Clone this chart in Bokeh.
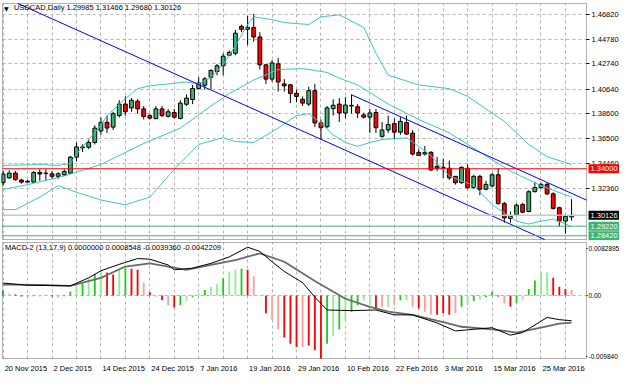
from bokeh.plotting import figure
from bokeh.layouts import column
from bokeh.models import (Range1d, LinearAxis, FixedTicker, PrintfTickFormatter, Grid,
                          BoxAnnotation, Label, ColumnDataSource)
from bokeh.embed import file_html
from bokeh.resources import INLINE

# ---------------- data ----------------
bars = list(range(94))
opens = [1.3284, 1.3324, 1.3364, 1.3306, 1.3297, 1.3289, 1.3369, 1.3364, 1.3358, 1.3337,
         1.3350, 1.3364, 1.3497, 1.3575, 1.3579, 1.3619, 1.3715, 1.3787, 1.3747, 1.3843,
         1.3939, 1.3907, 1.3963, 1.3899, 1.3843, 1.3819, 1.3899, 1.3837, 1.3869, 1.3819,
         1.3937, 1.3977, 1.4069, 1.4096, 1.4163, 1.4211, 1.4258, 1.4346, 1.4362, 1.4586,
         1.4562, 1.4578, 1.4498, 1.4266, 1.4147, 1.4274, 1.4107, 1.4099, 1.4029, 1.3979,
         1.3939, 1.4051, 1.3782, 1.3750, 1.3901, 1.3939, 1.3865, 1.3929, 1.3917, 1.3849,
         1.3830, 1.3869, 1.3670, 1.3723, 1.3777, 1.3705, 1.3785, 1.3697, 1.3537, 1.3523,
         1.3537, 1.3420, 1.3412, 1.3404, 1.3337, 1.3284, 1.3404, 1.3244, 1.3337, 1.3230,
         1.3257, 1.3350, 1.3110, 1.2986, 1.3018, 1.3102, 1.3044, 1.3209, 1.3244, 1.3270,
         1.3191, 1.3076, 1.2964, 1.29985]
highs = [1.3380, 1.3388, 1.3382, 1.3316, 1.3308, 1.3380, 1.3396, 1.3396, 1.3380, 1.3372,
         1.3396, 1.3507, 1.3619, 1.3603, 1.3643, 1.3763, 1.3827, 1.3843, 1.3875, 1.3971,
         1.4003, 1.3989, 1.3979, 1.3923, 1.3859, 1.3923, 1.3923, 1.3899, 1.3899, 1.3971,
         1.4019, 1.4099, 1.4163, 1.4163, 1.4229, 1.4274, 1.4362, 1.4386, 1.4557, 1.4602,
         1.4674, 1.4690, 1.4538, 1.4274, 1.4306, 1.4322, 1.4147, 1.4107, 1.4059, 1.4003,
         1.4083, 1.4107, 1.3811, 1.3923, 1.3979, 1.3989, 1.3997, 1.4019, 1.3939, 1.3867,
         1.3899, 1.3899, 1.3790, 1.3843, 1.3819, 1.3830, 1.3843, 1.3723, 1.3563, 1.3590,
         1.3547, 1.3499, 1.3484, 1.3468, 1.3340, 1.3420, 1.3438, 1.3350, 1.3350, 1.3300,
         1.3364, 1.3404, 1.3124, 1.3044, 1.3110, 1.3118, 1.3220, 1.3292, 1.3284, 1.3284,
         1.3204, 1.3084, 1.3020, 1.31466]
lows = [1.3260, 1.3316, 1.3300, 1.3276, 1.3284, 1.3284, 1.3300, 1.3300, 1.3316, 1.3316,
        1.3340, 1.3356, 1.3460, 1.3539, 1.3563, 1.3603, 1.3683, 1.3699, 1.3723, 1.3827,
        1.3843, 1.3875, 1.3859, 1.3811, 1.3811, 1.3811, 1.3830, 1.3827, 1.3819, 1.3811,
        1.3923, 1.3939, 1.4059, 1.4059, 1.4061, 1.4179, 1.4179, 1.4338, 1.4346, 1.4538,
        1.4429, 1.4458, 1.4227, 1.4107, 1.4123, 1.4043, 1.4043, 1.3947, 1.3955, 1.3923,
        1.3923, 1.3747, 1.3643, 1.3739, 1.3843, 1.3790, 1.3819, 1.3859, 1.3822, 1.3819,
        1.3699, 1.3699, 1.3659, 1.3699, 1.3643, 1.3683, 1.3683, 1.3510, 1.3507, 1.3510,
        1.3380, 1.3380, 1.3324, 1.3308, 1.3268, 1.3276, 1.3230, 1.3230, 1.3180, 1.3220,
        1.3244, 1.3100, 1.2951, 1.2951, 1.3004, 1.3030, 1.3038, 1.3204, 1.3230, 1.3180,
        1.3060, 1.2916, 1.2858, 1.29680]
closes = [1.3356, 1.3364, 1.3310, 1.3289, 1.3289, 1.3369, 1.3356, 1.3360, 1.3337, 1.3358,
          1.3377, 1.3497, 1.3582, 1.3582, 1.3619, 1.3739, 1.3787, 1.3739, 1.3859, 1.3939,
          1.3875, 1.3971, 1.3899, 1.3835, 1.3822, 1.3899, 1.3843, 1.3875, 1.3830, 1.3947,
          1.3989, 1.4069, 1.4115, 1.4149, 1.4219, 1.4258, 1.4338, 1.4370, 1.4530, 1.4562,
          1.4578, 1.4498, 1.4266, 1.4147, 1.4282, 1.4123, 1.4091, 1.4027, 1.4003, 1.3947,
          1.4051, 1.3782, 1.3742, 1.3907, 1.3929, 1.3865, 1.3931, 1.3923, 1.3865, 1.3830,
          1.3865, 1.3742, 1.3723, 1.3769, 1.3705, 1.3795, 1.3689, 1.3523, 1.3510, 1.3537,
          1.3390, 1.3404, 1.3404, 1.3324, 1.3284, 1.3412, 1.3244, 1.3337, 1.3230, 1.3270,
          1.3350, 1.3110, 1.2991, 1.3004, 1.3097, 1.3038, 1.3209, 1.3244, 1.3270, 1.3191,
          1.3070, 1.2964, 1.3004, 1.30126]

# Bollinger bands
bb_upper_x = [0, 6, 9, 11, 12, 14, 16, 17, 19, 21, 22, 24, 27, 30, 32, 34, 36, 38, 40, 41,
              44, 46, 50, 52, 55, 59, 61, 63, 68, 73, 76, 79, 82, 86, 89, 93]
bb_upper = [1.3428, 1.3436, 1.3428, 1.3444, 1.3524, 1.3643, 1.3763, 1.3843, 1.3939, 1.4027,
            1.4067, 1.4091, 1.4107, 1.4123, 1.4107, 1.4163, 1.4267, 1.4426, 1.4602, 1.4666,
            1.4642, 1.4618, 1.4602, 1.4666, 1.4682, 1.4578, 1.4363, 1.4179, 1.4099, 1.4067,
            1.4003, 1.3899, 1.3795, 1.3603, 1.3500, 1.3436]
bb_mid_x = [0, 4, 10, 16, 23, 29, 34, 37, 41, 45, 49, 53, 55, 58, 63, 68, 73, 78, 83, 88, 93]
bb_mid = [1.3228, 1.3268, 1.3340, 1.3436, 1.3611, 1.3739, 1.3923, 1.4027, 1.4139, 1.4227,
          1.4235, 1.4203, 1.4155, 1.4099, 1.3939, 1.3811, 1.3699, 1.3540, 1.3380, 1.3260,
          1.3164]
bb_lower_x = [0, 2, 6, 9, 12, 16, 20, 24, 28, 32, 36, 38, 41, 45, 48, 50, 52, 54, 56, 58,
              60, 62, 66, 68, 70, 73, 77, 80, 84, 86, 88, 90, 92, 93]
bb_lower = [1.3060, 1.3060, 1.3164, 1.3260, 1.3204, 1.3140, 1.3100, 1.3164, 1.3396, 1.3603,
            1.3659, 1.3627, 1.3619, 1.3739, 1.3843, 1.3859, 1.3779, 1.3683, 1.3619, 1.3587,
            1.3619, 1.3643, 1.3659, 1.3587, 1.3508, 1.3340, 1.3260, 1.3100, 1.2964, 1.2940,
            1.2964, 1.2980, 1.2940, 1.2916]

# trend channel (two parallel lines, ending at the chart border)
channel_upper_x = [57, 95.45]
channel_upper = [1.40164, 1.31393]
channel_lower_x = [2.4, 88.6]
channel_lower = [1.47770, 1.28110]

# horizontal levels
level_red = 1.34000
level_bid = 1.30126
level_green = [1.29220, 1.28420]

price_ticks = [1.46820, 1.44780, 1.42740, 1.40640, 1.38600, 1.36500, 1.34460, 1.32360]

# MACD-2 (13,17,9)
macd_x = [0, 4, 11, 14, 16, 19, 22, 24, 27, 28, 31, 34, 37, 40, 42, 44, 46, 49, 51, 53,
          57, 61, 64, 67, 71, 74, 77, 80, 83, 85, 89, 91, 93]
macd_line = [0.00195, 0.00161, 0.00151, 0.00277, 0.00387, 0.00488, 0.00578, 0.00568, 0.00478,
             0.00402, 0.00428, 0.00503, 0.00604, 0.00755, 0.00690, 0.00528, 0.00377, 0.00201,
             -0.00025, -0.00226, -0.00236, -0.00226, -0.00302, -0.00302, -0.00428, -0.00553,
             -0.00528, -0.00503, -0.00619, -0.00578, -0.00342, -0.00377, -0.0039360]
signal_x = [0, 6, 11, 16, 20, 24, 27, 30, 34, 38, 42, 46, 51, 56, 60, 63, 67, 72, 75, 80,
            84, 88, 91, 93]
signal_line = [0.00170, 0.00166, 0.00151, 0.00277, 0.00453, 0.00503, 0.00453, 0.00402,
               0.00478, 0.00553, 0.00660, 0.00528, 0.00226, -0.00050, -0.00176, -0.00252,
               -0.00302, -0.00417, -0.00488, -0.00528, -0.00578, -0.00503, -0.00438,
               -0.0042209]
hist = [0.00075, 0.00035, 0.00015, -0.00015, -0.00025, -0.00010, -0.00015, -0.00005,
        -0.00015, -0.00025, -0.00010, 0.00065, 0.00151, 0.00186, 0.00267, 0.00337, 0.00412,
        0.00362, 0.00327, 0.00402, 0.00428, 0.00417, 0.00402, 0.00201, 0.00050, -0.00015,
        -0.00075, -0.00151, -0.00186, -0.00151, -0.00086, -0.00025, 0.00035, 0.00086,
        0.00136, 0.00176, 0.00267, 0.00377, 0.00402, 0.00417, 0.00402, 0.00302, -0.00010,
        -0.00277, -0.00377, -0.00528, -0.00654, -0.00755, -0.00805, -0.00805, -0.00780,
        -0.00855, -0.00984, -0.00755, -0.00629, -0.00528, -0.00402, -0.00252, -0.00151,
        -0.00075, -0.00151, -0.00201, -0.00176, -0.00176, -0.00151, -0.00075, -0.00075,
        -0.00176, -0.00201, -0.00252, -0.00302, -0.00302, -0.00277, -0.00302, -0.00277,
        -0.00176, -0.00151, -0.00086, -0.00060, -0.00025, 0.00065, -0.00015, -0.00126,
        -0.00176, -0.00116, -0.00075, 0.00101, 0.00236, 0.00377, 0.00362, 0.00277, 0.00136,
        0.00101, 0.0008548]
hist_kind = ["G", "L", "R", "R", "P", "G", "P", "G", "R", "P", "G", "G", "L", "G", "L", "G",
             "L", "R", "R", "L", "G", "R", "R", "P", "R", "P", "R", "P", "R", "G", "L", "G",
             "L", "G", "L", "L", "G", "L", "L", "G", "R", "P", "P", "R", "P", "P", "R", "R",
             "R", "P", "R", "R", "R", "G", "L", "G", "L", "G", "G", "L", "L", "R", "P", "L",
             "P", "G", "L", "P", "R", "P", "P", "R", "R", "R", "P", "G", "L", "G", "L", "G",
             "G", "R", "P", "R", "G", "L", "G", "G", "L", "L", "R", "R", "R", "P"]
macd_top, macd_bottom = 0.0082895, -0.009840
macd_scale_labels = ["0.0082895", "0.00", "-0.009840"]

date_bars = [0, 8, 16, 24, 32, 40, 48, 56, 64, 72, 80, 88]
date_labels = ["20 Nov 2015", "2 Dec 2015", "14 Dec 2015", "24 Dec 2015", "7 Jan 2016",
               "19 Jan 2016", "29 Jan 2016", "10 Feb 2016", "22 Feb 2016", "3 Mar 2016",
               "15 Mar 2016", "25 Mar 2016"]
grid_bars = list(range(0, 94, 4))

title_main = "USDCAD,Daily  1.29985 1.31466 1.29680 1.30126"
title_macd = "MACD-2 (13,17,9) 0.0000000 0.0008548 -0.0039360 -0.0042209"

# ---------------- geometry (pixels of the 619 x 375 canvas) ----------------
FONT = "Liberation Sans"
FS = "7.5px"
W = 619
H1, H2 = 241, 134
PXB = 6.112          # pixels per bar
X0 = 2.63            # canvas x of bar 0
FRAME_L = 1          # frames span from x=1 to the right canvas edge
BOX_L, BOX_R = 2.0, 586.0    # MT4 chart border (left / right)
def bar_at(px):
    return (px - X0) / PXB
x_start, x_end = bar_at(FRAME_L), bar_at(W)
box_left, box_right = bar_at(BOX_L), bar_at(BOX_R)

PPX = 0.00083307     # price per pixel, main panel
P0 = 1.48019         # price at canvas y = 0
def price_at(py):
    return P0 - PPX * py
# main: frame y 2..240, chart border y 3..239
main_lo, main_hi = price_at(240), price_at(2)
box_lo, box_hi = price_at(239), price_at(3)

# MACD: frame y 241..359 (canvas), chart border y 242..358
MPX = (macd_top - macd_bottom) / 116.0
m_lo, m_hi = macd_bottom - MPX, macd_top + MPX

GRID_COLOR = "#b4b4b4"
xr = Range1d(x_start, x_end)

# ---------------- main price panel ----------------
p = figure(width=W, height=H1, x_range=xr, y_range=Range1d(main_lo, main_hi),
           x_axis_location=None, y_axis_location=None, toolbar_location=None,
           output_backend="svg", min_border_left=FRAME_L, min_border_right=0,
           min_border_top=2, min_border_bottom=1, title=None)
p.grid.visible = False
p.outline_line_color = None
p.background_fill_color = "white"
p.border_fill_color = "white"

p.add_layout(Grid(dimension=0, ticker=FixedTicker(ticks=grid_bars), grid_line_color=GRID_COLOR,
                  grid_line_dash="3 3", cross_bounds=(box_lo, box_hi)))
p.add_layout(Grid(dimension=1, ticker=FixedTicker(ticks=price_ticks), grid_line_color=GRID_COLOR,
                  grid_line_dash="3 3", cross_bounds=(box_left, box_right)))

up_color, down_color = "#3cb371", "#ff0000"
src = ColumnDataSource(dict(
    x=bars, h=highs, l=lows,
    top=[max(o, c) for o, c in zip(opens, closes)],
    bottom=[min(o, c) for o, c in zip(opens, closes)],
    fill=[up_color if c >= o else down_color for o, c in zip(opens, closes)],
))
p.segment(x0="x", y0="l", x1="x", y1="h", source=src, line_color="black", line_width=1)
p.vbar(x="x", width=0.62, top="top", bottom="bottom", fill_color="fill", line_color="black",
       line_width=1, source=src)

BB_COLOR = "#40c4c0"
p.line(bb_upper_x, bb_upper, line_color=BB_COLOR, line_width=1)
p.line(bb_mid_x, bb_mid, line_color=BB_COLOR, line_width=1)
p.line(bb_lower_x, bb_lower, line_color=BB_COLOR, line_width=1)

p.line(channel_upper_x, channel_upper, line_color="#0000ff", line_width=1)
p.line(channel_lower_x, channel_lower, line_color="#0000ff", line_width=1)

levels = [level_red, level_bid] + level_green
level_colors = ["#ff0000", "#c8c8c8", "#3cb371", "#3cb371"]
level_widths = [1, 1.5, 1, 1]
p.segment(x0=[box_left] * 4, x1=[box_right] * 4, y0=levels, y1=levels,
          line_color=level_colors, line_width=level_widths)

# chart border
p.add_layout(BoxAnnotation(left=box_left, right=box_right, bottom=box_lo, top=box_hi,
                           fill_alpha=0, line_color="black", line_width=1))

# price scale on the right of the chart border
yaxis = LinearAxis(ticker=FixedTicker(ticks=price_ticks), formatter=PrintfTickFormatter(format="%.5f"),
                   fixed_location=box_right,
                   major_tick_out=3, major_tick_in=0, minor_tick_out=0, minor_tick_in=0,
                   major_label_standoff=2, axis_line_color=None, major_tick_line_color="black",
                   major_label_text_font=FONT, major_label_text_font_size=FS,
                   major_label_text_color="black")
p.add_layout(yaxis, "right")

label_bg = ["#ff0000", "#000000", "#3cb371", "#3cb371"]
for val, bg in zip(levels, label_bg):
    p.add_layout(Label(x=box_right, y=val, x_offset=2, text="%.5f" % val, text_color="white",
                       text_font=FONT, text_font_size=FS, text_baseline="middle",
                       text_align="left", background_fill_color=bg, padding=2))

FH1 = H1 - 3
p.add_layout(Label(x=2.5, y=FH1 - 5.5, x_units="screen", y_units="screen", text="\u25bc",
                   text_font="DejaVu Sans", text_font_size="6px", text_baseline="middle",
                   text_color="black"))
p.add_layout(Label(x=12.5, y=FH1 - 5.2, x_units="screen", y_units="screen", text=title_main,
                   text_font=FONT, text_font_size=FS, text_baseline="middle",
                   text_color="black"))

# ---------------- MACD panel ----------------
p2 = figure(width=W, height=H2, x_range=xr, y_range=Range1d(m_lo, m_hi),
            x_axis_location=None, y_axis_location=None, toolbar_location=None,
            output_backend="svg", min_border_left=FRAME_L, min_border_right=0,
            min_border_top=0, min_border_bottom=16, title=None)
p2.grid.visible = False
p2.outline_line_color = None
p2.background_fill_color = "white"
p2.border_fill_color = "white"
p2.add_layout(Grid(dimension=0, ticker=FixedTicker(ticks=grid_bars), grid_line_color=GRID_COLOR,
                   grid_line_dash="3 3", cross_bounds=(macd_bottom, macd_top)))
p2.add_layout(Grid(dimension=1, ticker=FixedTicker(ticks=[0.0]), grid_line_color=GRID_COLOR,
                   grid_line_dash="3 3", cross_bounds=(box_left, box_right)))

hist_colors = {"G": "#22c822", "L": "#90ee90", "R": "#ff0000", "P": "#ff9c9c"}
hsrc = ColumnDataSource(dict(x=bars, top=hist, color=[hist_colors[k] for k in hist_kind]))
p2.vbar(x="x", width=0.3, top="top", bottom=0, fill_color="color", line_color=None, source=hsrc)
p2.line(signal_x, signal_line, line_color="#6a6a6a", line_width=1.8)
p2.line(macd_x, macd_line, line_color="black", line_width=1)

p2.add_layout(BoxAnnotation(left=box_left, right=box_right, bottom=macd_bottom, top=macd_top,
                            fill_alpha=0, line_color="black", line_width=1))

# MACD scale: MT4 writes max / zero / min, the outer two just inside the panel
scale_pos = [macd_top - 5.5 * MPX, 0.0, macd_bottom + 2.2 * MPX]
maxis = LinearAxis(ticker=FixedTicker(ticks=scale_pos),
                   major_label_overrides={v: t for v, t in zip(scale_pos, macd_scale_labels)},
                   fixed_location=box_right,
                   major_tick_out=1, major_tick_in=0, minor_tick_out=0, minor_tick_in=0,
                   major_label_standoff=1, axis_line_color=None, major_tick_line_color="black",
                   major_label_text_font=FONT, major_label_text_font_size="6.5px",
                   major_label_text_color="black")
p2.add_layout(maxis, "right")

# date axis: MT4 puts label text to the right of its bar, so center each label accordingly
cw = {" ": 0.278, "N": 0.722, "o": 0.556, "v": 0.5, "D": 0.722, "e": 0.556, "c": 0.5,
      "J": 0.5, "a": 0.556, "n": 0.556, "F": 0.611, "b": 0.556, "M": 0.833, "r": 0.333}
fs = 7.5
centers = []
for b, t in zip(date_bars, date_labels):
    wpx = sum(cw.get(ch, 0.556) for ch in t) * fs
    centers.append(round(b + (wpx / 2 + 1.5) / PXB, 3))
xaxis = LinearAxis(ticker=FixedTicker(ticks=centers),
                   major_label_overrides={c: t for c, t in zip(centers, date_labels)},
                   major_tick_out=0, major_tick_in=0, minor_tick_out=0, minor_tick_in=0,
                   major_label_standoff=4, axis_line_color=None,
                   major_label_text_font=FONT, major_label_text_font_size=FS,
                   major_label_text_color="black")
p2.add_layout(xaxis, "below")

FH2 = 118
p2.add_layout(Label(x=3.5, y=FH2 - 5.5, x_units="screen", y_units="screen", text=title_macd,
                    text_font=FONT, text_font_size=FS, text_baseline="middle",
                    text_color="black"))

layout = column(p, p2, spacing=0)
open("out.html", "w").write(file_html(layout, INLINE))
